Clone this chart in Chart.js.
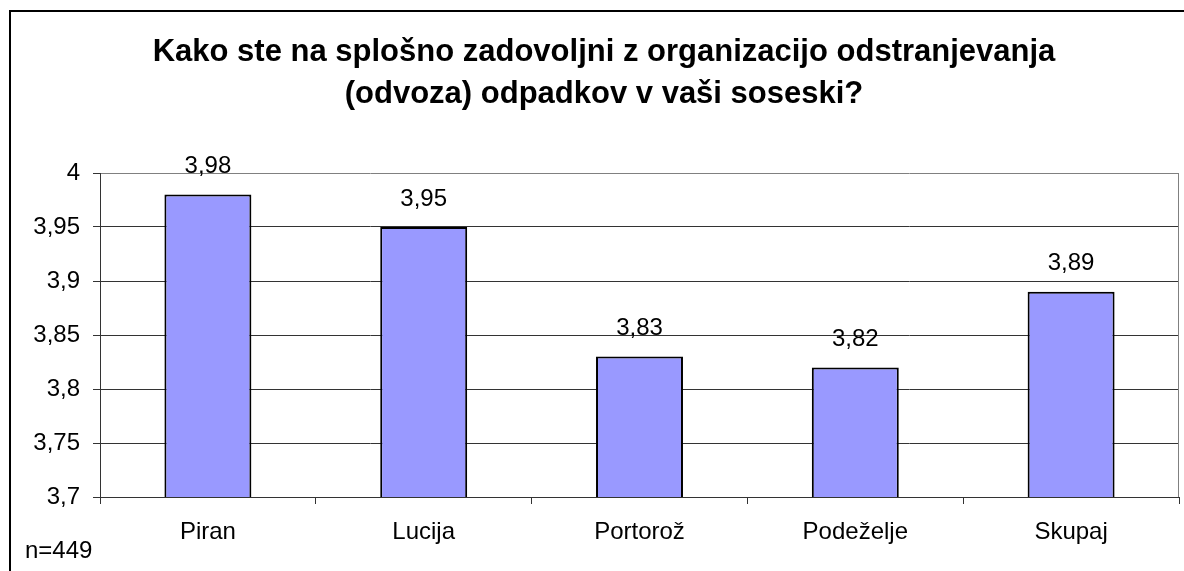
<!DOCTYPE html>
<html>
<head>
<meta charset="utf-8">
<script src="https://cdn.jsdelivr.net/npm/chart.js@4.4.1/dist/chart.umd.min.js"></script>
<style>
  html, body { margin: 0; padding: 0; background: #fff; }
  canvas { display: block; }
</style>
</head>
<body>
<canvas id="chart" width="1184" height="571"></canvas>
<script>
const categories = ['Piran', 'Lucija', 'Portorož', 'Podeželje', 'Skupaj'];
const values = [3.98, 3.95, 3.83, 3.82, 3.89];
const yTicks = [3.7, 3.75, 3.8, 3.85, 3.9, 3.95, 4];
const titleLines = ['Kako ste na splošno zadovoljni z organizacijo odstranjevanja', '(odvoza) odpadkov v vaši soseski?'];
const sampleNote = 'n=449';

const FONT = "'Liberation Sans', Arial, sans-serif";
const fmt = v => String(Math.round(v * 100) / 100).replace('.', ',');

const decor = {
  id: 'decor',
  beforeDraw(chart) {
    const c = chart.ctx;
    c.save();
    c.fillStyle = '#fff';
    c.fillRect(0, 0, chart.width, chart.height);
    c.strokeStyle = '#000';
    c.lineWidth = 2;
    c.strokeRect(10, 11, 1300, 700);
    c.restore();
  },
  beforeDatasetsDraw(chart) {
    const a = chart.chartArea, c = chart.ctx;
    c.save();
    c.strokeStyle = '#808080';
    c.lineWidth = 1;
    c.beginPath();
    c.moveTo(a.right - 0.5, a.top);
    c.lineTo(a.right - 0.5, a.bottom);
    c.stroke();
    c.restore();
  },
  afterDraw(chart) {
    const c = chart.ctx;
    c.save();
    c.fillStyle = '#000';
    c.textAlign = 'center';
    c.textBaseline = 'middle';
    c.font = 'bold 31px ' + FONT;
    titleLines.forEach((t, i) => c.fillText(t, 604, 52 + i * 42));

    c.font = '24px ' + FONT;
    chart.getDatasetMeta(0).data.forEach((bar, i) => {
      c.fillText(fmt(values[i]), bar.x, bar.y - 28);
    });

    c.textAlign = 'left';
    c.fillText(sampleNote, 25, 551);
    c.restore();
  }
};

new Chart(document.getElementById('chart').getContext('2d'), {
  type: 'bar',
  data: {
    labels: categories,
    datasets: [{
      data: values,
      backgroundColor: '#9999FF',
      borderColor: '#000',
      borderWidth: 2,
      borderSkipped: false,
      categoryPercentage: 1,
      barPercentage: 0.403
    }]
  },
  options: {
    responsive: false,
    animation: false,
    devicePixelRatio: 1,
    layout: { padding: { top: 173, right: 5, left: 0, bottom: 0 } },
    plugins: {
      legend: { display: false },
      title: { display: false },
      tooltip: { enabled: false }
    },
    scales: {
      x: {
        offset: true,
        grid: { drawOnChartArea: false, drawTicks: true, tickLength: 7, tickColor: '#333', offset: true },
        border: { color: '#333', width: 1 },
        ticks: { color: '#000', font: { family: FONT, size: 24 }, padding: 14, maxRotation: 0 },
        afterFit(s) { s.height = 74; }
      },
      y: {
        min: 3.7,
        max: 4,
        afterBuildTicks(s) { s.ticks = yTicks.map(v => ({ value: v })); },
        grid: {
          color: ctx => (ctx.tick && ctx.tick.value === 4) ? '#808080' : '#333',
          tickColor: '#333',
          tickLength: 7,
          lineWidth: 1
        },
        border: { color: '#333', width: 1 },
        ticks: {
          color: '#000',
          font: { family: FONT, size: 24 },
          padding: 13,
          callback: v => fmt(v)
        },
        afterFit(s) { s.width = 100; }
      }
    }
  },
  plugins: [decor]
});
</script>
</body>
</html>
